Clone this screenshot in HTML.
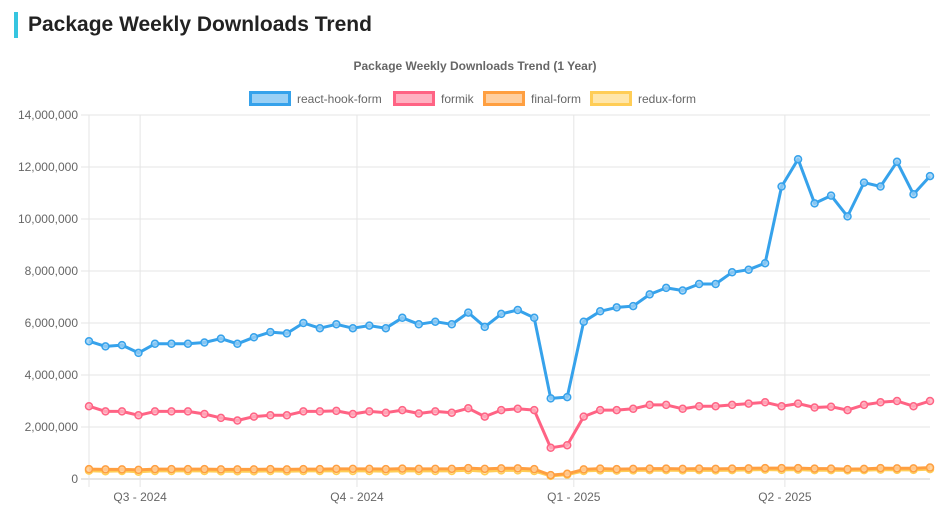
<!DOCTYPE html>
<html><head><meta charset="utf-8">
<style>
body{margin:0;background:#fff;width:951px;height:529px;overflow:hidden;font-family:"Liberation Sans",sans-serif;}
#hdr{position:absolute;left:14px;top:12px;height:26px;border-left:4px solid #36c5e0;padding-left:10px;font-size:21px;font-weight:bold;color:#222;line-height:26px;}
svg{position:absolute;left:0;top:0;}
</style></head><body>
<div id="hdr">Package Weekly Downloads Trend</div>
<svg id="chart" width="951" height="529"></svg>
<script>
const seriesNames=["react-hook-form","formik","final-form","redux-form"];
const reactHookForm=[5.3,5.1,5.15,4.85,5.2,5.2,5.2,5.25,5.4,5.2,5.45,5.65,5.6,6.0,5.8,5.95,5.8,5.9,5.8,6.2,5.95,6.05,5.95,6.4,5.85,6.35,6.5,6.2,3.1,3.15,6.05,6.45,6.6,6.65,7.1,7.35,7.25,7.5,7.5,7.95,8.05,8.3,11.25,12.3,10.6,10.9,10.1,11.4,11.25,12.2,10.95,11.65];
const formik=[2.8,2.6,2.6,2.45,2.6,2.6,2.6,2.5,2.35,2.25,2.4,2.45,2.45,2.6,2.6,2.62,2.5,2.6,2.55,2.65,2.52,2.6,2.55,2.72,2.4,2.65,2.7,2.65,1.2,1.3,2.4,2.65,2.65,2.7,2.85,2.85,2.7,2.8,2.8,2.85,2.9,2.95,2.8,2.9,2.75,2.78,2.65,2.85,2.95,3.0,2.8,3.0];
const finalForm=[0.38,0.37,0.37,0.35,0.38,0.38,0.38,0.38,0.37,0.37,0.37,0.38,0.37,0.38,0.38,0.39,0.39,0.39,0.38,0.4,0.39,0.39,0.39,0.42,0.39,0.41,0.41,0.38,0.15,0.2,0.37,0.4,0.38,0.39,0.4,0.4,0.39,0.4,0.39,0.4,0.41,0.42,0.42,0.42,0.4,0.4,0.38,0.39,0.42,0.41,0.41,0.44];
const reduxForm=[0.32,0.3,0.31,0.28,0.31,0.31,0.31,0.31,0.3,0.3,0.3,0.31,0.3,0.31,0.31,0.31,0.31,0.31,0.3,0.32,0.31,0.31,0.31,0.34,0.3,0.33,0.33,0.31,0.12,0.17,0.31,0.33,0.32,0.33,0.34,0.34,0.33,0.34,0.33,0.34,0.35,0.36,0.35,0.36,0.34,0.34,0.33,0.34,0.36,0.35,0.35,0.38];
const yTicks=[0,2,4,6,8,10,12,14];
const yTickLabels=["0","2,000,000","4,000,000","6,000,000","8,000,000","10,000,000","12,000,000","14,000,000"];
const xTickPos=[3.1,16.25,29.4,42.2];
const xTickLabels=["Q3 - 2024","Q4 - 2024","Q1 - 2025","Q2 - 2025"];
const colors=["#36a2eb","#ff6384","#ff9f40","#ffcd56"];
const fills=["#9ad0f5","#ffb1c1","#ffcf9f","#ffe6aa"];
const X0=89,X1=930,Y0=479,Y1=115;
const N=reactHookForm.length;
const xs=i=>X0+(X1-X0)*i/(N-1);
const ys=v=>Y0-(Y0-Y1)*v/14;
const svg=document.getElementById('chart');
const NS='http://www.w3.org/2000/svg';
function mk(t,a){const e=document.createElementNS(NS,t);for(const k in a)e.setAttribute(k,a[k]);svg.appendChild(e);return e;}
let e=mk('text',{x:475,y:70,'text-anchor':'middle','font-size':12,'font-weight':'bold',fill:'#666'});e.textContent='Package Weekly Downloads Trend (1 Year)';


const legX=[249,393,483,590];
seriesNames.forEach((n,i)=>{
  const r=mk('rect',{x:legX[i]+1.5,y:92.5,width:39,height:12,fill:fills[i],stroke:colors[i],'stroke-width':3});
  
  
  const t=mk('text',{x:legX[i]+48,y:103,'font-size':12,fill:'#666'});t.textContent=n;
  
  
});
yTicks.forEach((v,i)=>{
  const y=ys(v);
  const l=mk('line',{x1:X0-8,x2:X1,y1:y,y2:y,stroke:i==0?'#ccc':'#e5e5e5','stroke-width':1});
  
  
  const t=mk('text',{x:X0-11,y:y+4,'text-anchor':'end','font-size':12,fill:'#666'});t.textContent=yTickLabels[i];
  
  
});
let ax=mk('line',{x1:X0,x2:X0,y1:Y1,y2:Y0+8,stroke:'#e5e5e5'});


xTickPos.forEach((p,i)=>{
  const x=xs(p);
  const l=mk('line',{x1:x,x2:x,y1:Y1,y2:Y0+8,stroke:'#e5e5e5'});
  
  
  const t=mk('text',{x:x,y:501,'text-anchor':'middle','font-size':12,fill:'#666'});t.textContent=xTickLabels[i];
  
  
});
const all=[reactHookForm,formik,finalForm,reduxForm];
[3,2,1,0].forEach(si=>{
  const d=all[si].map((v,i)=>(i?'L':'M')+xs(i).toFixed(1)+','+ys(v).toFixed(1)).join('');
  const p=mk('path',{d:d,fill:'none',stroke:colors[si],'stroke-width':3,'stroke-linejoin':'round'});
  
  
  all[si].forEach((v,i)=>{
    const c=mk('circle',{cx:xs(i),cy:ys(v),r:3.5,fill:fills[si],stroke:colors[si],'stroke-width':1.5,'fill-opacity':0.8});
    
    
  });
});
</script>
</body></html>
